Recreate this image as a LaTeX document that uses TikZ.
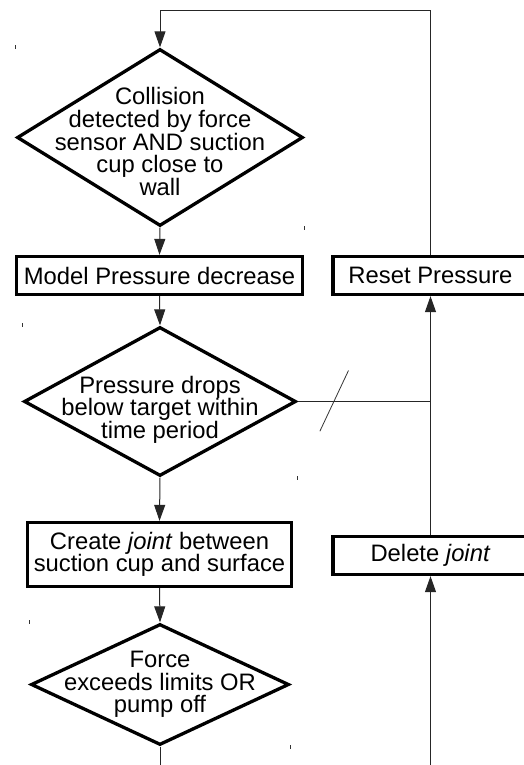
\documentclass[tikz,border=0pt]{standalone}
\usepackage{fontspec}
\setmainfont{Liberation Sans}
\usetikzlibrary{shapes.geometric,arrows.meta}

\begin{document}
\begin{tikzpicture}[x=1pt,y=1pt,
		flowtext/.style={font=\fontsize{23.8}{22.6}\selectfont,align=center},
		process/.style={draw,line width=3.3pt,inner sep=0pt,flowtext},
		decision/.style={diamond,draw,line width=3.3pt,inner sep=0pt},
		flow/.style={draw=black!85,line width=1pt,-{Triangle[length=16pt,width=11pt]}},
		link/.style={draw=black!85,line width=1pt},
		tick/.style={black!80,line width=0.8pt}]
				\useasboundingbox (0,0) rectangle (524,-765);
				\node[decision,minimum width=286pt,minimum height=177pt,
					label={[flowtext,yshift=-4pt]center:Collision\\detected by force\\sensor AND suction\\cup close to\\wall}] (collision) at (160,-137.5) {};
				\node[process,minimum width=286pt,minimum height=38pt] (model) at (159.5,-275.5) {Model Pressure decrease};
				\node[process,minimum width=195pt,minimum height=38pt] (reset) at (430.5,-275.5) {Reset Pressure};
				\node[decision,minimum width=272pt,minimum height=149pt,
					label={[flowtext,yshift=-8pt]center:Pressure drops\\below target within\\time period}] (drop) at (160,-401.5) {};
				\node[process,minimum width=264pt,minimum height=64pt] (create) at (159.5,-554.5) {Create \textit{joint} between\\suction cup and surface};
				\node[process,minimum width=195pt,minimum height=38pt] (delete) at (430.5,-555.5) {Delete \textit{joint}};
				\node[decision,minimum width=258pt,minimum height=121pt,
					label={[flowtext]center:Force\\exceeds limits OR\\pump off}] (force) at (160,-684.5) {};
				\coordinate (top) at (0,-11);
				\coordinate (exit) at (160,-766);
				\coordinate (entry) at (430.5,-766);
				\draw[flow] (reset.north) -- (reset.north |- top) -| (collision.north);
				\draw[flow] (collision.south) -- (model.north);
				\draw[flow] (model.south) -- (drop.north);
				\draw[flow] (drop.south) -- (create.north);
				\draw[flow] (create.south) -- (force.north);
				\draw[link] (force.south) -- (exit);
				\draw[flow] (entry) -- (delete.south);
				\draw[flow] (delete.north) -- (reset.south);
				\draw[link] (drop.east) -- (drop.east -| reset.south) coordinate[pos=0.275] (cut);
				\draw[tick] ([shift={(-14.3,-29.7)}]cut) -- ([shift={(14.3,31)}]cut);
				\foreach \d in {collision,drop,force} {
					\draw[tick] ([yshift=2pt]\d.west |- \d.north) -- ++(0,-4);
					\draw[tick] ([yshift=-2pt]\d.east |- \d.south) -- ++(0,4);
				}
			\end{tikzpicture}
\end{document}
